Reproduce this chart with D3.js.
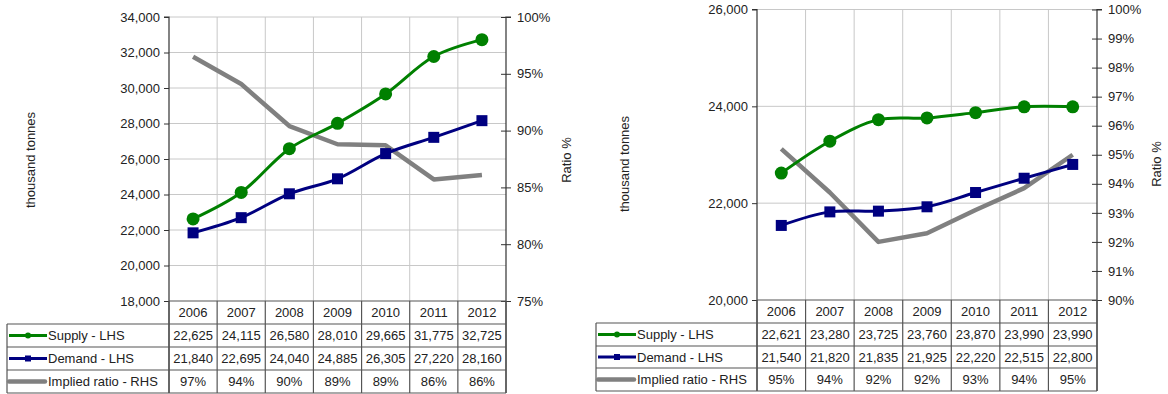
<!DOCTYPE html>
<html><head><meta charset="utf-8">
<script src="https://cdn.jsdelivr.net/npm/d3@7"></script>
<style>body{margin:0;background:#fff}svg{display:block;font-family:"Liberation Sans",Arial,sans-serif}</style>
</head><body><svg id="c" width="1168" height="394"></svg>
<script>
const years = ["2006","2007","2008","2009","2010","2011","2012"];
// Left chart
const supplyA = [22625,24115,26580,28010,29665,31775,32725];
const demandA = [21840,22695,24040,24885,26305,27220,28160];
const ratioA = [96.5,94.1,90.4,88.8,88.7,85.7,86.1];
const ratioLabelsA = ["97%","94%","90%","89%","89%","86%","86%"];
const leftTicksA = [18000,20000,22000,24000,26000,28000,30000,32000,34000];
const rightTicksA = [75,80,85,90,95,100];
// Right chart
const supplyB = [22621,23280,23725,23760,23870,23990,23990];
const demandB = [21540,21820,21835,21925,22220,22515,22800];
const ratioB = [95.2,93.7,92.0,92.3,93.1,93.85,95.0];
const ratioLabelsB = ["95%","94%","92%","92%","93%","94%","95%"];
const leftTicksB = [20000,22000,24000,26000];
const rightTicksB = [90,91,92,93,94,95,96,97,98,99,100];
const seriesNames = ["Supply - LHS","Demand - LHS","Implied ratio - RHS"];

const svg = d3.select("#c");
const fmt = d3.format(",");
const GREEN="#008000", NAVY="#000080", GREY="#808080", GRID="#c8c8c8", AX="#333";

function chart(o){
  const g = svg.append("g");
  const x = d3.scaleBand().domain(years).range([o.x0,o.x1]);
  const yL = d3.scaleLinear().domain([o.lt[0],o.lt[o.lt.length-1]]).range([o.yb,o.yt]);
  const yR = d3.scaleLinear().domain([o.rt[0],o.rt[o.rt.length-1]]).range([o.yb,o.yt]);
  const cx = d => x(d)+x.bandwidth()/2;
  // gridlines
  g.append("g").selectAll("line").data(o.lt.slice(1)).join("line")
    .attr("x1",o.x0).attr("x2",o.x1).attr("y1",d=>yL(d)).attr("y2",d=>yL(d))
    .attr("stroke",GRID).attr("stroke-width",1);
  g.append("g").selectAll("line").data(years.slice(1)).join("line")
    .attr("x1",d=>x(d)).attr("x2",d=>x(d)).attr("y1",o.yt).attr("y2",o.yb)
    .attr("stroke",GRID).attr("stroke-width",1);
  // axes
  const la = g.append("g").attr("transform",`translate(${o.x0},0)`)
    .call(d3.axisLeft(yL).tickValues(o.lt).tickFormat(fmt).tickSize(5).tickPadding(4));
  const ra = g.append("g").attr("transform",`translate(${o.x1},0)`)
    .call(d3.axisRight(yR).tickValues(o.rt).tickFormat(d=>d+"%").tickSize(5).tickPadding(6));
  ra.selectAll(".tick line").attr("x1",-5);
  [la,ra].forEach(a=>{a.select(".domain").attr("stroke",AX).attr("stroke-width",1.2);
    a.selectAll(".tick line").attr("stroke",AX);
    a.selectAll("text").attr("font-size",13).attr("fill","#222").attr("font-family","Liberation Sans, Arial, sans-serif");});
  la.select(".domain").attr("d",`M-5,${o.yt}H0V${o.tb[4]}`);
  ra.select(".domain").attr("d",`M5,${o.yt}H0V${o.tb[4]}`);
  // axis titles
  g.append("text").attr("transform",`translate(${o.ltx},${o.tty}) rotate(-90)`).attr("text-anchor","middle")
    .attr("font-size",13).attr("fill","#222").text("thousand tonnes");
  g.append("text").attr("transform",`translate(${o.rtx},${o.tty}) rotate(-90)`).attr("text-anchor","middle")
    .attr("font-size",13).attr("fill","#222").text("Ratio %");
  // lines
  const lineL = d3.line().x((d,i)=>cx(years[i])).y(d=>yL(d)).curve(d3.curveCatmullRom.alpha(0.5));
  const lineR = d3.line().x((d,i)=>cx(years[i])).y(d=>yR(d));
  g.append("path").attr("d",lineR(o.ratio)).attr("fill","none").attr("stroke",GREY).attr("stroke-width",4.5).attr("stroke-linejoin","round");
  g.append("path").attr("d",lineL(o.demand)).attr("fill","none").attr("stroke",NAVY).attr("stroke-width",3);
  g.append("path").attr("d",lineL(o.supply)).attr("fill","none").attr("stroke",GREEN).attr("stroke-width",3);
  g.append("g").selectAll("rect").data(o.demand).join("rect")
    .attr("x",(d,i)=>cx(years[i])-5.5).attr("y",d=>yL(d)-5.5).attr("width",11).attr("height",11).attr("fill",NAVY);
  g.append("g").selectAll("circle").data(o.supply).join("circle")
    .attr("cx",(d,i)=>cx(years[i])).attr("cy",d=>yL(d)).attr("r",6.5).attr("fill",GREEN);
  // table
  const tb = o.tb, tg = g.append("g");
  const tl = (x1,y1,x2,y2)=>tg.append("line").attr("x1",x1).attr("y1",y1).attr("x2",x2).attr("y2",y2).attr("stroke","#555").attr("stroke-width",1.2);
  tl(o.x0,tb[0],o.x1,tb[0]);
  for(let r=1;r<5;r++) tl(o.tx0,tb[r],o.x1,tb[r]);
  tl(o.tx0,tb[1],o.tx0,tb[4]);
  years.forEach(y=>tl(x(y),tb[0],x(y),tb[4]));
  tl(o.x1,tb[0],o.x1,tb[4]);
  const mid = r => (tb[r]+tb[r+1])/2+4.5;
  tg.selectAll(".yr").data(years).join("text").attr("x",d=>cx(d)).attr("y",mid(0)).attr("text-anchor","middle").attr("font-size",13).attr("fill","#222").text(d=>d);
  const rows = [o.supply.map(fmt), o.demand.map(fmt), o.ratioLabels];
  rows.forEach((vals,r)=>{
    tg.append("g").selectAll("text").data(vals).join("text").attr("x",(d,i)=>cx(years[i])).attr("y",mid(r+1))
      .attr("text-anchor","middle").attr("font-size",13).attr("fill","#222").text(d=>d);
    tg.append("text").attr("x",o.tx0+41).attr("y",mid(r+1)).attr("font-size",13).attr("fill","#222").text(seriesNames[r]);
  });
  const ky = r => (tb[r]+tb[r+1])/2;
  const k0=o.tx0+2, k1=o.tx0+40;
  tg.append("line").attr("x1",k0).attr("x2",k1).attr("y1",ky(1)).attr("y2",ky(1)).attr("stroke",GREEN).attr("stroke-width",3);
  tg.append("circle").attr("cx",(k0+k1)/2).attr("cy",ky(1)).attr("r",3).attr("fill",GREEN);
  tg.append("line").attr("x1",k0).attr("x2",k1).attr("y1",ky(2)).attr("y2",ky(2)).attr("stroke",NAVY).attr("stroke-width",3);
  tg.append("rect").attr("x",(k0+k1)/2-3).attr("y",ky(2)-3).attr("width",6).attr("height",6).attr("fill",NAVY);
  tg.append("line").attr("x1",k0).attr("x2",k1-2).attr("y1",ky(3)).attr("y2",ky(3)).attr("stroke",GREY).attr("stroke-width",4.5).attr("stroke-linecap","round");
}

chart({x0:169,x1:506,yt:17,yb:301,tx0:7,tb:[301,324,347,370,393],lt:leftTicksA,rt:rightTicksA,
  supply:supplyA,demand:demandA,ratio:ratioA,ratioLabels:ratioLabelsA,ltx:35,rtx:571,tty:160});
chart({x0:757,x1:1097,yt:9.5,yb:300,tx0:596,tb:[300,323,346,368,391],lt:leftTicksB,rt:rightTicksB,
  supply:supplyB,demand:demandB,ratio:ratioB,ratioLabels:ratioLabelsB,ltx:629,rtx:1161,tty:164});
</script></body></html>
